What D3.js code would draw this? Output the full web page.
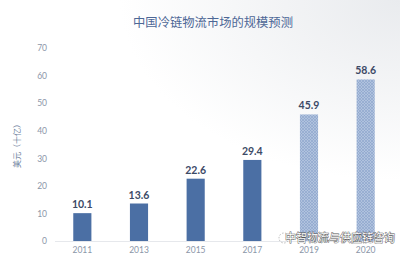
<!DOCTYPE html>
<html>
<head>
<meta charset="utf-8">
<script src="https://cdn.jsdelivr.net/npm/d3@7"></script>
<style>
  body { margin: 0; background: #fff; }
  svg { display: block; font-family: "Noto Sans CJK SC", "Noto Sans", sans-serif; }
</style>
</head>
<body>
<script>
// chart data
var years = ["2011", "2013", "2015", "2017", "2019", "2020"];
var values = [10.1, 13.6, 22.6, 29.4, 45.9, 58.6];
var forecast = [false, false, false, false, true, true];
var yTicks = [0, 10, 20, 30, 40, 50, 60, 70];

var width = 400, height = 258;

var svg = d3.select("body").append("svg")
    .attr("width", width)
    .attr("height", height);

var defs = svg.append("defs");

// faint grey shading in the top right corner
var grad = defs.append("radialGradient")
    .attr("id", "corner")
    .attr("cx", 1).attr("cy", 0).attr("r", 0.7);
grad.append("stop").attr("offset", "0%").attr("stop-color", "#e9ebee");
grad.append("stop").attr("offset", "100%").attr("stop-color", "#ffffff");

svg.append("rect")
    .attr("width", width)
    .attr("height", height)
    .attr("fill", "url(#corner)");

// crosshatch for forecast bars
var pat = defs.append("pattern")
    .attr("id", "hatch")
    .attr("patternUnits", "userSpaceOnUse")
    .attr("width", 3).attr("height", 3);
pat.append("rect").attr("width", 3).attr("height", 3).attr("fill", "#b0c2de");
pat.append("path")
    .attr("d", "M0,0L3,3M3,0L0,3")
    .attr("stroke", "#8aa3c9")
    .attr("stroke-width", 0.6);

// scales
var x = d3.scaleBand()
    .domain(years)
    .range([54, 394])
    .paddingInner(0.68)
    .paddingOuter(0.34);

var y = d3.scaleLinear()
    .domain([0, 70])
    .range([241, 48]);

// title
svg.append("text")
    .attr("x", 213)
    .attr("y", 27)
    .attr("text-anchor", "middle")
    .attr("font-size", 12.3)
    .attr("fill", "#4d6796")
    .text("中国冷链物流市场的规模预测");

// y axis (labels only)
var yAxis = svg.append("g")
    .attr("transform", "translate(47,0)")
    .call(d3.axisLeft(y).tickValues(yTicks).tickSize(0).tickPadding(0));
yAxis.select(".domain").remove();
yAxis.selectAll("text")
    .attr("font-size", 8.5)
    .attr("fill", "#8b96a8")
    .attr("font-family", "Lato, sans-serif");

// y axis title
svg.append("text")
    .attr("transform", "translate(20,144) rotate(-90)")
    .attr("text-anchor", "middle")
    .attr("font-size", 8)
    .attr("fill", "#6f7f9c")
    .text("美元（十亿）");

// baseline
svg.append("line")
    .attr("x1", 55).attr("x2", 394)
    .attr("y1", y(0) + 0.5).attr("y2", y(0) + 0.5)
    .attr("stroke", "#e6e8ec")
    .attr("stroke-width", 1);

// x axis labels
var xAxis = svg.append("g")
    .attr("transform", "translate(0," + y(0) + ")")
    .call(d3.axisBottom(x).tickSize(0).tickPadding(6));
xAxis.select(".domain").remove();
xAxis.selectAll("text")
    .attr("font-size", 8.5)
    .attr("fill", "#8b96a8")
    .attr("font-family", "Lato, sans-serif");

// bars
svg.selectAll(".bar")
    .data(years)
    .enter()
    .append("rect")
    .attr("class", "bar")
    .attr("x", function(d){ return x(d); })
    .attr("width", x.bandwidth())
    .attr("y", function(d, i){ return y(values[i]); })
    .attr("height", function(d, i){ return y(0) - y(values[i]); })
    .attr("fill", function(d, i){ return forecast[i] ? "url(#hatch)" : "#4b6fa4"; });

// value labels
svg.selectAll(".val")
    .data(years)
    .enter()
    .append("text")
    .attr("class", "val")
    .attr("x", function(d){ return x(d) + x.bandwidth() / 2; })
    .attr("y", function(d, i){ return y(values[i]) - 5; })
    .attr("text-anchor", "middle")
    .attr("font-size", 10.5)
    .attr("font-weight", "bold")
    .attr("font-family", "Lato, sans-serif")
    .attr("fill", "#3c4a66")
    .text(function(d, i){ return values[i].toFixed(1); });

// watermark
svg.append("circle")
    .attr("cx", 284).attr("cy", 238).attr("r", 5)
    .attr("fill", "none")
    .attr("stroke", "#aaa")
    .attr("stroke-width", 0.8)
    .attr("stroke-dasharray", "1.5,1.5");
svg.append("text")
    .attr("x", 340)
    .attr("y", 242)
    .attr("text-anchor", "middle")
    .attr("font-size", 11)
    .attr("fill", "#ffffff")
    .attr("stroke", "#555")
    .attr("stroke-width", 0.8)
    .attr("paint-order", "stroke")
    .text("中智物流与供应链咨询");
</script>
</body>
</html>
